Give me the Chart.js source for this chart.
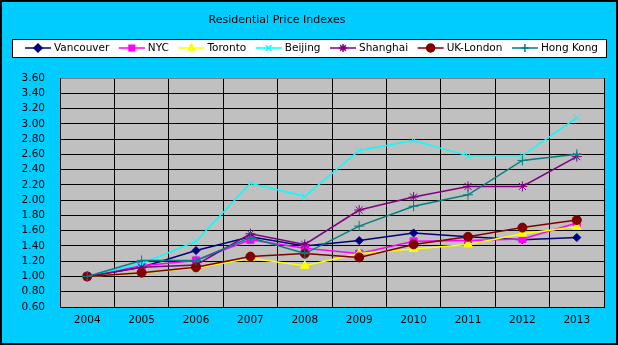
<!DOCTYPE html>
<html>
<head>
<meta charset="utf-8">
<script src="https://cdn.jsdelivr.net/npm/chart.js@4/dist/chart.umd.min.js"></script>
<style>
  html, body { margin: 0; padding: 0; background: #00CCFF; }
  #wrap { width: 618px; height: 345px; }
</style>
</head>
<body>
<div id="wrap"><canvas id="priceChart" width="618" height="345"></canvas></div>
<script>
  const years = ['2004', '2005', '2006', '2007', '2008', '2009', '2010', '2011', '2012', '2013'];
  const vancouver = [1.00, 1.12, 1.34, 1.52, 1.40, 1.47, 1.57, 1.52, 1.48, 1.51];
  const nyc       = [1.00, 1.14, 1.21, 1.48, 1.37, 1.30, 1.46, 1.47, 1.49, 1.70];
  const toronto   = [1.00, 1.05, 1.11, 1.24, 1.14, 1.30, 1.36, 1.42, 1.56, 1.65];
  const beijing   = [1.00, 1.17, 1.46, 2.22, 2.05, 2.65, 2.78, 2.58, 2.58, 3.08];
  const shanghai  = [1.00, 1.12, 1.15, 1.56, 1.42, 1.87, 2.04, 2.18, 2.18, 2.57];
  const ukLondon  = [1.00, 1.05, 1.12, 1.26, 1.30, 1.25, 1.42, 1.52, 1.64, 1.74];
  const hongKong  = [1.00, 1.21, 1.21, 1.51, 1.30, 1.66, 1.92, 2.07, 2.52, 2.60];

  const chartTitle = 'Residential Price Indexes';
  const FONT = '"DejaVu Sans", Verdana, sans-serif';

  function series(label, data, color, style, radius, order) {
    return {
      label: label,
      data: data,
      borderColor: color,
      backgroundColor: color,
      pointBackgroundColor: color,
      pointBorderColor: color,
      pointStyle: style,
      pointRadius: radius,
      pointBorderWidth: 1,
      borderWidth: 1.5,
      tension: 0,
      order: order
    };
  }

  const datasets = [
    series('Vancouver', vancouver, '#000080', 'rectRot', 4, 6),
    series('NYC', nyc, '#FF00FF', 'rect', 5, 5),
    series('Toronto', toronto, '#FFFF00', 'triangle', 5, 4),
    series('Beijing', beijing, '#00FFFF', 'crossRot', 5, 3),
    series('Shanghai', shanghai, '#800080', 'star', 5, 2),
    series('UK-London', ukLondon, '#800000', 'circle', 4.5, 1),
    series('Hong Kong', hongKong, '#008080', 'cross', 5, 0)
  ];

  // background, plot area fill, title, legend box and outer border
  const excelLook = {
    id: 'excelLook',
    beforeDraw(chart) {
      const ctx = chart.ctx;
      const a = chart.chartArea;
      ctx.save();
      ctx.fillStyle = '#00CCFF';
      ctx.fillRect(0, 0, chart.width, chart.height);
      ctx.fillStyle = '#C0C0C0';
      ctx.fillRect(a.left, a.top, a.right - a.left, a.bottom - a.top);
      ctx.restore();
    },
    afterDraw(chart) {
      const ctx = chart.ctx;
      ctx.save();
      // title
      ctx.fillStyle = '#000000';
      ctx.font = '11px ' + FONT;
      ctx.textAlign = 'center';
      ctx.textBaseline = 'middle';
      ctx.fillText(chartTitle, 277, 20);

      // legend box
      ctx.fillStyle = '#FFFFFF';
      ctx.fillRect(12, 39, 594, 18);
      ctx.strokeStyle = '#000000';
      ctx.lineWidth = 1;
      ctx.strokeRect(12.5, 39.5, 594, 18);

      ctx.font = '10.5px ' + FONT;
      ctx.textAlign = 'left';
      const widths = chart.data.datasets.map(d => ctx.measureText(d.label).width);
      const total = widths.reduce((s, w) => s + w + 29, 0);
      const gap = (573 - total) / (widths.length - 1);
      let x = 25;
      const y = 48;
      chart.data.datasets.forEach((d, i) => {
        ctx.strokeStyle = d.borderColor;
        ctx.lineWidth = 1.5;
        ctx.beginPath();
        ctx.moveTo(x, y);
        ctx.lineTo(x + 26, y);
        ctx.stroke();
        Chart.helpers.drawPoint(ctx, {
          pointStyle: d.pointStyle,
          radius: Math.min(d.pointRadius, 4),
          rotation: 0,
          borderWidth: 1
        }, x + 13, y);
        ctx.fillStyle = d.borderColor;
        ctx.fill();
        ctx.fillStyle = '#000000';
        ctx.fillText(d.label, x + 29, y + 0.5);
        x += 29 + widths[i] + gap;
      });

      // outer frame
      ctx.strokeStyle = '#000000';
      ctx.lineWidth = 2;
      ctx.strokeRect(1, 1, chart.width - 2, chart.height - 2);
      ctx.restore();
    }
  };

  new Chart(document.getElementById('priceChart'), {
    type: 'line',
    data: {
      labels: years,
      datasets: datasets
    },
    options: {
      responsive: false,
      animation: false,
      events: [],
      layout: { padding: { top: 78, right: 14, bottom: 8, left: 0 } },
      plugins: {
        legend: { display: false },
        title: { display: false },
        tooltip: { enabled: false }
      },
      scales: {
        x: {
          offset: true,
          afterFit(scale) { scale.height = 30; },
          grid: {
            offset: true,
            drawTicks: false,
            color: ctx => ctx.index === years.length ? '#808080' : '#000000',
            lineWidth: 1
          },
          border: { color: '#000000', width: 1 },
          ticks: {
            padding: 7,
            color: '#000000',
            font: { family: FONT, size: 10.5 }
          }
        },
        y: {
          min: 0.6,
          max: 3.6,
          afterFit(scale) { scale.width = 60; },
          grid: {
            drawTicks: false,
            color: ctx => (ctx.tick && Math.abs(ctx.tick.value - 3.6) < 0.001) ? '#808080' : '#000000',
            lineWidth: 1
          },
          border: { color: '#000000', width: 1 },
          ticks: {
            stepSize: 0.2,
            autoSkip: false,
            padding: 15,
            color: '#000000',
            font: { family: FONT, size: 10.5 },
            callback: v => Number(v).toFixed(2)
          }
        }
      }
    },
    plugins: [excelLook]
  });
</script>
</body>
</html>
